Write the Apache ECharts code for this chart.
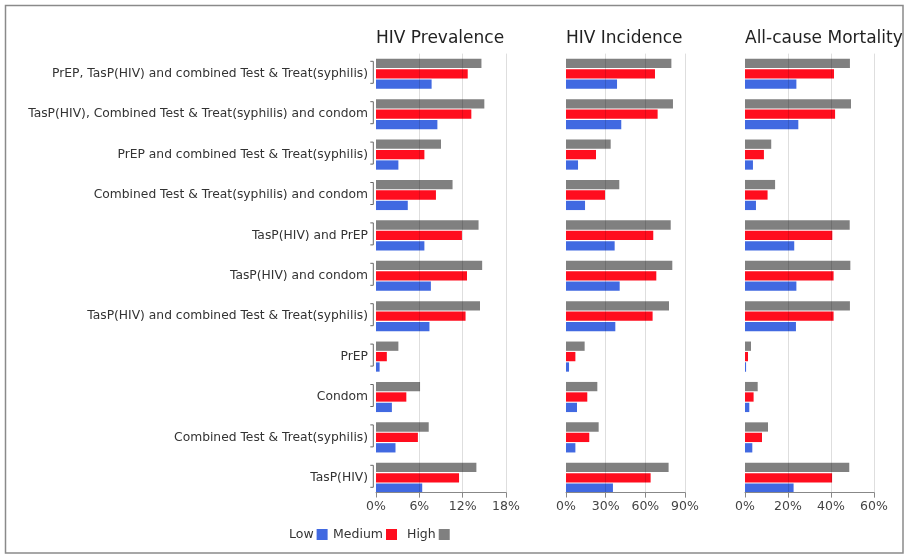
<!DOCTYPE html>
<html>
<head>
<meta charset="utf-8">
<script src="https://cdn.jsdelivr.net/npm/echarts@6/dist/echarts.min.js"></script>
<style>
  html, body { margin: 0; padding: 0; background: #fff; }
  #chart { width: 907px; height: 555px; }
</style>
</head>
<body>
<div id="chart"></div>
<script>
// Intervention strategies, listed top to bottom
const strategies = [
  'PrEP, TasP(HIV) and combined Test & Treat(syphilis)',
  'TasP(HIV), Combined Test & Treat(syphilis) and condom',
  'PrEP and combined Test & Treat(syphilis)',
  'Combined Test & Treat(syphilis) and condom',
  'TasP(HIV) and PrEP',
  'TasP(HIV) and condom',
  'TasP(HIV) and combined Test & Treat(syphilis)',
  'PrEP',
  'Condom',
  'Combined Test & Treat(syphilis)',
  'TasP(HIV)'
];

const panelTitles = ['HIV Prevalence', 'HIV Incidence', 'All-cause Mortality'];
const levels = ['Low', 'Medium', 'High'];

// Axis ticks per panel (percent)
const prevalenceTicks = [0, 6, 12, 18];
const incidenceTicks = [0, 30, 60, 90];
const mortalityTicks = [0, 20, 40, 60];

// Reduction (%) by coverage level — HIV prevalence
const prevalenceLow    = [7.7, 8.5, 3.1, 4.4, 6.7, 7.6, 7.4, 0.5, 2.2, 2.7, 6.4];
const prevalenceMedium = [12.7, 13.2, 6.7, 8.3, 11.9, 12.6, 12.4, 1.5, 4.2, 5.8, 11.5];
const prevalenceHigh   = [14.6, 15.0, 9.0, 10.6, 14.2, 14.7, 14.4, 3.1, 6.1, 7.3, 13.9];

// HIV incidence
const incidenceLow    = [38.6, 41.8, 9.1, 14.4, 36.8, 40.6, 37.3, 2.3, 8.3, 7.1, 35.5];
const incidenceMedium = [67.3, 69.3, 22.7, 29.5, 66.0, 68.3, 65.5, 7.1, 16.1, 17.6, 64.0];
const incidenceHigh   = [79.7, 80.9, 33.8, 40.3, 79.2, 80.4, 77.9, 14.1, 23.7, 24.7, 77.6];

// All-cause mortality
const mortalityLow    = [23.9, 24.8, 3.7, 5.1, 22.9, 23.9, 23.7, 0.5, 2.0, 3.4, 22.6];
const mortalityMedium = [41.4, 41.9, 8.8, 10.5, 40.6, 41.2, 41.2, 1.4, 4.0, 7.9, 40.5];
const mortalityHigh   = [48.8, 49.3, 12.2, 14.0, 48.7, 49.0, 48.8, 2.8, 5.9, 10.7, 48.5];

const levelColors = { Low: '#4169e1', Medium: '#ff0d1e', High: '#808080' };

const panels = [
  { title: panelTitles[0], ticks: prevalenceTicks, data: { Low: prevalenceLow, Medium: prevalenceMedium, High: prevalenceHigh }, left: 376, width: 130 },
  { title: panelTitles[1], ticks: incidenceTicks,  data: { Low: incidenceLow,  Medium: incidenceMedium,  High: incidenceHigh },  left: 566, width: 119 },
  { title: panelTitles[2], ticks: mortalityTicks,  data: { Low: mortalityLow,  Medium: mortalityMedium,  High: mortalityHigh },  left: 745, width: 129 }
];

const FONT = 'DejaVu Sans';
const gridTop = 53.6;
const gridBottom = 555 - 498;

const grids = [], xAxes = [], yAxes = [], series = [], titles = [];

panels.forEach((p, i) => {
  grids.push({ left: p.left, width: p.width, top: gridTop, bottom: gridBottom, containLabel: false });
  titles.push({
    text: p.title, left: p.left, top: 30, padding: 0,
    textStyle: { fontFamily: FONT, fontSize: 17, fontWeight: 'normal', color: '#222' }
  });
  const step = p.ticks[1] - p.ticks[0];
  xAxes.push({
    type: 'value', gridIndex: i, min: p.ticks[0], max: p.ticks[p.ticks.length - 1], interval: step,
    position: 'bottom', offset: -5.5, z: 5,
    axisLine: { show: true, lineStyle: { color: '#888', width: 1 } },
    axisTick: { show: true, length: 5, lineStyle: { color: '#888' } },
    axisLabel: { formatter: '{value}%', fontFamily: FONT, fontSize: 12.5, color: '#444', margin: 8 },
    splitLine: { show: true, showMinLine: false, lineStyle: { color: 'rgba(0,0,0,0.13)', width: 1 } }
  });
  yAxes.push({
    type: 'category', gridIndex: i, data: strategies, inverse: true,
    axisLine: { show: false }, axisTick: { show: false },
    axisLabel: { show: i === 0, fontFamily: FONT, fontSize: 12.3, color: '#333', margin: 8 },
    splitLine: { show: false }
  });
  // Top to bottom within each group: High, Medium, Low
  ['High', 'Medium', 'Low'].forEach(level => {
    series.push({
      type: 'bar', name: level, xAxisIndex: i, yAxisIndex: i,
      data: p.data[level], barWidth: 9.3, barGap: '12%',
      itemStyle: { color: levelColors[level] },
      emphasis: { disabled: true }, silent: true
    });
  });
});

// Bracket marks next to each group on the first panel
series.push({
  type: 'custom', xAxisIndex: 0, yAxisIndex: 0, clip: false, silent: true, z: 3,
  data: strategies.map((s, idx) => [0, idx]),
  encode: { x: 0, y: 1 },
  renderItem: function (params, api) {
    const c = api.coord([0, api.value(1)]);
    const x = c[0] - 2.7, y = c[1] - 1.5;
    return {
      type: 'polyline',
      shape: { points: [[x - 3, y - 11], [x, y - 11], [x, y + 11], [x - 3, y + 11]] },
      style: { stroke: '#666', lineWidth: 1, fill: null }
    };
  }
});

const legendText = { fontFamily: FONT, fontSize: 12.5, color: '#333', padding: [0, -2, 0, 0] };
const legendLefts = [289, 333, 407];
const legends = levels.map((lv, k) => ({
  data: [lv], left: legendLefts[k], top: 528, padding: 0, align: 'right', icon: 'rect',
  itemWidth: 11, itemHeight: 11, textStyle: legendText, selectedMode: false
}));

const chart = echarts.init(document.getElementById('chart'), null, { renderer: 'canvas' });
chart.setOption({
  animation: false,
  backgroundColor: '#fff',
  color: [levelColors.High, levelColors.Medium, levelColors.Low],
  title: titles,
  legend: legends,
  grid: grids,
  xAxis: xAxes,
  yAxis: yAxes,
  series: series,
  graphic: [{
    type: 'rect', silent: true, z: 100,
    shape: { x: 5.5, y: 5.5, width: 897.5, height: 547.5 },
    style: { fill: null, stroke: '#8a8a8a', lineWidth: 1.5 }
  }]
});
</script>
</body>
</html>
